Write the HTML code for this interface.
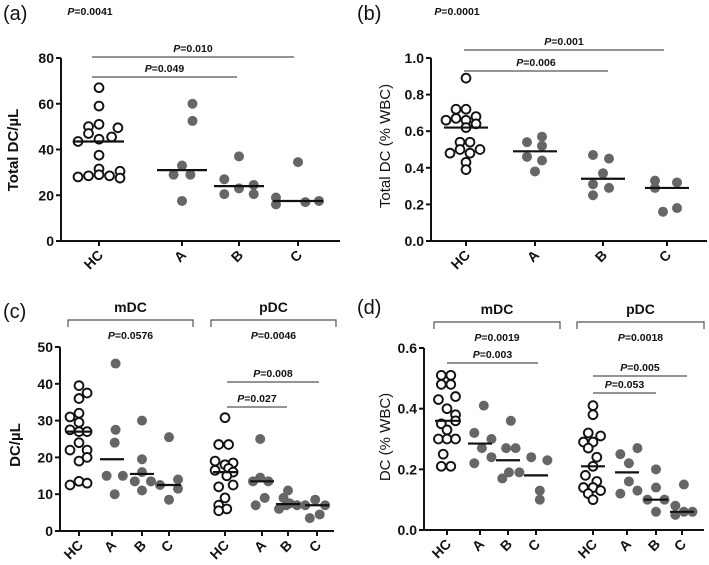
<!DOCTYPE html>
<html><head><meta charset="utf-8"><style>
html,body{margin:0;padding:0;background:#fff;width:709px;height:565px;overflow:hidden}
svg{display:block;font-family:"Liberation Sans",Arial,sans-serif}
</style></head><body>
<svg id="fig" width="709" height="565" viewBox="0 0 709 565" xmlns="http://www.w3.org/2000/svg"></svg>
<script>
// ---------- data ----------
const aCats=['HC','A','B','C'];
const aVals=[[67,59,51,50,49.5,47,45.5,44.5,43.5,37.5,31.5,30.5,29,28.5,28.5,28,27.5],[60,52.5,33,29,29,17.5],[37,27,23,24.5,20.5,20.5],[34.5,19,16,17,17.5]];
const aMed=[43.5,31,24,17.5];
const aTicks=[0,20,40,60,80];
const bCats=['HC','A','B','C'];
const bVals=[[0.89,0.72,0.72,0.68,0.66,0.67,0.66,0.64,0.62,0.54,0.54,0.50,0.50,0.48,0.48,0.43,0.39],[0.57,0.54,0.52,0.46,0.44,0.38],[0.47,0.45,0.37,0.31,0.29,0.25],[0.33,0.32,0.29,0.18,0.16]];
const bMed=[0.62,0.49,0.34,0.29];
const bTicks=[0,0.2,0.4,0.6,0.8,1.0];
const cCats=['HC','A','B','C','HC','A','B','C'];
const cVals=[[39.5,37.5,36,32,31,29.5,27.5,27,27,24,22,22,20,19,13.5,13,12.5],[45.5,27.5,24,15,15,10],[30,19.5,16,13.5,13.5,11],[25.5,14,11.5,12.5,8.5],
 [30.8,23.5,23.5,19,18.5,18,17,16,16.5,15,12,12.5,9,7,6,5.5],[25,14.5,13.5,13.5,9,7],[11,9,7.5,7,6,7],[8.5,7,7,4.5,3.5]];
const cMed=[27,19.5,15.5,12.5,16,13.5,7.3,7];
const cTicks=[0,10,20,30,40,50];
const dCats=['HC','A','B','C','HC','A','B','C'];
const dVals=[[0.51,0.51,0.48,0.48,0.44,0.43,0.40,0.38,0.36,0.35,0.33,0.30,0.30,0.30,0.25,0.21,0.21],[0.41,0.32,0.30,0.27,0.24,0.22],[0.36,0.27,0.27,0.19,0.19,0.17],[0.24,0.23,0.13,0.10],
 [0.41,0.38,0.32,0.31,0.29,0.29,0.27,0.24,0.21,0.18,0.16,0.14,0.14,0.13,0.12,0.10],[0.27,0.25,0.22,0.16,0.13,0.12],[0.20,0.14,0.10,0.10,0.06],[0.15,0.08,0.06,0.06,0.05]];
const dMed=[0.36,0.285,0.23,0.18,0.21,0.19,0.10,0.06];
const dTicks=[0,0.2,0.4,0.6];

// ---------- layout (jitter columns, pixel geometry) ----------
const aJit=[[0,0,0,-1,1.8,-1,1.2,0,-2,0,0,2,0,-1,1,-2,2],[1,1,0,-0.8,0.8,0],[0,-1.4,0,1.4,-1.4,1.4],[0,-2.1,-2.1,0.7,2]];
const bJit=[[0,-1,0,1,-2,-1,0,1,0,-0.6,0.4,-0.6,1.4,-1.6,0.4,0,0],[0.7,-0.8,0.7,-0.8,0.7,0],[-1,0.6,0,-1,0.6,-1],[-1.2,1,-1.2,1,-0.4]];
const cJit=[[0,0.9,0,0,-1,0,-1,0,0.9,0,-1,0.9,0.9,0,0,0.9,-1],[0.4,0.4,0.3,-0.6,1.2,0.3],[0,0,0,-0.8,1,0],[0,1,1,-1,0],
 [0,-0.7,0.4,-1.1,0.9,0,0.4,0.9,-1.1,0.2,-0.7,0.9,0,-0.7,0.2,-0.7],[-0.2,-0.2,-1,0.7,0.3,-0.7],[0,-0.5,0.2,1,-1,-0.2],[-0.2,-1.3,0.9,0.3,-0.8]];
const dJit=[[-0.6,0.4,-0.6,0.4,0.9,-0.9,0,0.9,0.9,-0.6,0,-0.9,0,0.9,-0.4,-0.6,0.4],[0.4,-0.6,1.2,0.2,1.2,-0.6],[0.3,-0.2,0.8,0.1,1.2,-0.6],[-0.5,1.2,0.4,0.4],
 [0,0,-0.5,0.8,-1,0,-0.5,0.4,0,-0.8,0.4,-1,0,0.8,-0.5,0],[1.1,-0.7,0.2,0.2,1.1,-0.7],[0,0,-0.9,0.9,0],[0.2,-0.7,0.2,1.1,-0.7]];

const NS='http://www.w3.org/2000/svg';
const svg=document.getElementById('fig');
function mk(tag,attrs,parent){const e=document.createElementNS(NS,tag);for(const k in attrs)e.setAttribute(k,attrs[k]);(parent||svg).appendChild(e);return e;}
function txt(s,attrs,parent){const e=mk('text',attrs,parent);e.textContent=s;return e;}
function ptext(label,x,y,parent){
  const t=mk('text',{x:x,y:y,'text-anchor':'middle','font-size':'10.5','font-weight':'bold',fill:'#111'},parent);
  
  
  const s1=mk('tspan',{'font-style':'italic'},t);s1.textContent='P';
  const s2=mk('tspan',{},t);s2.textContent='='+label;
}

function panel(o){
  const g=mk('g',{});
  
  
  const ys=v=>o.y0-v/o.ymax*(o.y0-o.yTop);
  const ya=mk('line',{x1:o.ax,y1:o.yTop,x2:o.ax,y2:o.y0+1,stroke:'#111','stroke-width':2},g);
  
  const xa=mk('line',{x1:o.ax-1,y1:o.y0,x2:o.xEnd,y2:o.y0,stroke:'#111','stroke-width':2},g);
  
  o.ticks.forEach(t=>{
    const y=ys(t);
    mk('line',{x1:o.ax-5,y1:y,x2:o.ax,y2:y,stroke:'#111','stroke-width':2},g);
    const l=txt(o.fmt(t),{x:o.ax-7,y:y+5,'text-anchor':'end','font-size':'14','font-weight':'bold',fill:'#111'},g);
    
  });
  const yl=txt(o.ylabel,{transform:`translate(${o.ylx},${o.yly}) rotate(-90)`,'text-anchor':'middle','font-size':'15','font-weight':o.ylBold?'bold':'normal',fill:'#111'},g);
  
  o.cats.forEach((c,i)=>{
    const cx=o.cx[i];
    mk('line',{x1:cx,y1:o.y0,x2:cx,y2:o.y0+5,stroke:'#111','stroke-width':2},g);
    const l=txt(c,{transform:`translate(${cx+5},${o.y0+15}) rotate(-45)`,'text-anchor':'end','font-size':'14','font-weight':'bold',fill:'#111'},g);
    
    const open=(c==='HC');
    o.vals[i].forEach((v,j)=>{
      const p=mk('circle',{cx:cx+o.jit[i][j]*o.ju,cy:ys(v),r:open?4.4:5,fill:open?'#fff':'#666',stroke:open?'#111':'none','stroke-width':open?1.9:0},g);
      
    });
    const m=mk('line',{x1:cx-o.mw,y1:ys(o.med[i]),x2:cx+o.mw,y2:ys(o.med[i]),stroke:'#111','stroke-width':2.2},g);
    
  });
  (o.sig||[]).forEach(s=>{
    const b=mk('line',{x1:s[1],y1:s[0],x2:s[2],y2:s[0],stroke:'#555','stroke-width':1.2},g);
    
    ptext(s[3],(s[1]+s[2])/2,s[0]-5,g);
  });
  (o.brackets||[]).forEach(b=>{
    const p=mk('path',{d:`M${b.x1},${b.y+7}V${b.y}H${b.x2}V${b.y+7}`,fill:'none',stroke:'#555','stroke-width':1.2},g);
    
    const t=txt(b.name,{x:(b.x1+b.x2)/2,y:b.y-8,'text-anchor':'middle','font-size':'14','font-weight':'bold',fill:'#111'},g);
    
    ptext(b.p,(b.x1+b.x2)/2,b.y+19,g);
  });
  if(o.topP) ptext(o.topP[0],o.topP[1],o.topP[2],g);
  const pl=txt('('+o.id+')',{x:o.lx,y:o.ly,'font-size':'20',fill:'#111'},g);
  
}
const f0=t=>String(t), f1=t=>t.toFixed(1);
panel({id:'a',cats:aCats,vals:aVals,med:aMed,ticks:aTicks,jit:aJit,ymax:80,y0:241,yTop:58,ax:61,xEnd:340,cx:[99,182,239,298],ju:10.5,mw:25,fmt:f0,
 ylabel:'Total DC/µL',ylBold:true,ylx:18,yly:150,lx:3,ly:20,topP:['0.0041',90,15],
 sig:[[57,92,294,'0.010'],[77,92,237,'0.049']]});
panel({id:'b',cats:bCats,vals:bVals,med:bMed,ticks:bTicks,jit:bJit,ymax:1.0,y0:241,yTop:58,ax:431,xEnd:707,cx:[466,535,603,667],ju:10,mw:22,fmt:f1,
 ylabel:'Total DC (% WBC)',ylBold:false,ylx:390,yly:146,lx:357,ly:20,topP:['0.0001',457,15],
 sig:[[50,464,664,'0.001'],[71,464,608,'0.006']]});
panel({id:'c',cats:cCats,vals:cVals,med:cMed,ticks:cTicks,jit:cJit,ymax:50,y0:531,yTop:347,ax:60,xEnd:334,cx:[79,112,142,169,225,262,288,317],ju:9,mw:12,fmt:f0,
 ylabel:'DC/µL',ylBold:true,ylx:20,yly:445,lx:3,ly:318,
 brackets:[{x1:68,x2:193,y:320,name:'mDC',p:'0.0576'},{x1:211,x2:336,y:320,name:'pDC',p:'0.0046'}],
 sig:[[382,227,319,'0.008'],[407,227,287,'0.027']]});
panel({id:'d',cats:dCats,vals:dVals,med:dMed,ticks:dTicks,jit:dJit,ymax:0.6,y0:530,yTop:348,ax:424,xEnd:704,cx:[447,480,508,536,593,627,656,682],ju:9.5,mw:12,fmt:f1,
 ylabel:'DC (% WBC)',ylBold:false,ylx:390,yly:437,lx:357,ly:314,
 brackets:[{x1:434,x2:560,y:322,name:'mDC',p:'0.0019'},{x1:577,x2:704,y:322,name:'pDC',p:'0.0018'}],
 sig:[[363,447,538,'0.003'],[376,593,687,'0.005'],[393,593,656,'0.053']]});
</script>
</body></html>
